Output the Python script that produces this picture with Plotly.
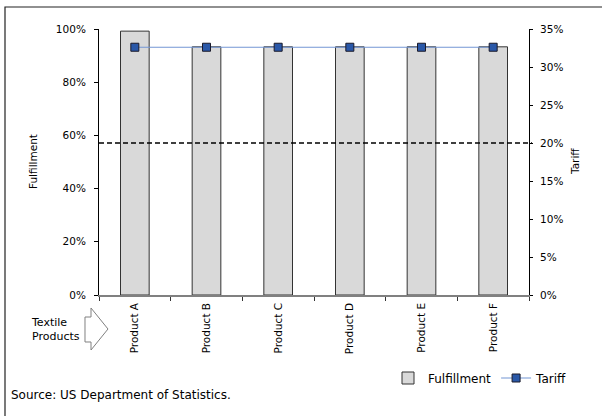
import plotly.graph_objects as go

# Data
products = ["Product A", "Product B", "Product C", "Product D", "Product E", "Product F"]
fulfillment = [99.2, 93.3, 93.3, 93.3, 93.3, 93.3]      # % (left axis)
tariff = [32.6, 32.6, 32.6, 32.6, 32.6, 32.6]            # % (right axis)
tariff_reference = 20                                    # % (dashed line, right axis)
left_ticks = [0, 20, 40, 60, 80, 100]
right_ticks = [0, 5, 10, 15, 20, 25, 30, 35]

W, H = 602, 416
L, R, T, B = 99, 73, 29, 121
PW, PH = W - L - R, H - T - B


def px_x(px):
    return (px - L) / PW


def px_y(py):
    return (H - B - py) / PH


FONT = "DejaVu Sans"

fig = go.Figure()

fig.add_trace(go.Bar(
    x=products, y=fulfillment, name="Fulfillment",
    width=0.4,
    marker=dict(color="#d9d9d9", line=dict(color="#333333", width=1)),
    yaxis="y",
))

fig.add_trace(go.Scatter(
    x=products, y=tariff, name="Tariff", mode="lines+markers",
    line=dict(color="#7396d4", width=1.2),
    marker=dict(symbol="square", size=8, color="#2a58a8",
                line=dict(color="#1a1a2a", width=1)),
    yaxis="y2",
))

# 20% tariff reference line
fig.add_shape(type="line", xref="paper", yref="y2",
              x0=0, x1=px_x(532), y0=tariff_reference, y1=tariff_reference,
              line=dict(color="black", width=1.6, dash="5px,3px"))

# Outer frame
fig.add_shape(type="rect", xref="paper", yref="paper",
              x0=px_x(5), x1=px_x(620), y0=px_y(7), y1=px_y(430),
              line=dict(color="#222222", width=1.2), fillcolor="rgba(0,0,0,0)",
              layer="below")

# Hollow arrow next to the category caption
arrow_pts = [(85, 317), (91, 317), (91, 308), (108, 329), (91, 350), (91, 342), (85, 342)]
path = "M " + " L ".join(f"{px_x(a):.5f},{px_y(b):.5f}" for a, b in arrow_pts) + " Z"
fig.add_shape(type="path", xref="paper", yref="paper", path=path,
              line=dict(color="#808080", width=1), fillcolor="white")

annotations = [
    dict(text="Textile<br>Products", x=px_x(29), y=px_y(329), xref="paper", yref="paper",
         xanchor="left", yanchor="middle", align="left", showarrow=False,
         font=dict(family=FONT, size=11, color="black")),
    dict(text="Source: US Department of Statistics.", x=px_x(9), y=px_y(395),
         xref="paper", yref="paper", xanchor="left", yanchor="middle", showarrow=False,
         font=dict(family=FONT, size=12, color="black")),
    dict(text="Fulfillment", x=px_x(33), y=0.5, xref="paper", yref="paper",
         textangle=-90, xanchor="center", yanchor="middle", showarrow=False,
         font=dict(family=FONT, size=10.5, color="black")),
    dict(text="Tariff", x=px_x(575), y=0.5, xref="paper", yref="paper",
         textangle=-90, xanchor="center", yanchor="middle", showarrow=False,
         font=dict(family=FONT, size=10.5, color="black")),
]

fig.update_layout(
    width=W, height=H,
    margin=dict(l=L, r=R, t=T, b=B),
    paper_bgcolor="white", plot_bgcolor="white",
    font=dict(family=FONT, size=10.5, color="black"),
    showlegend=True,
    legend=dict(orientation="h", x=px_x(388), y=px_y(378), xanchor="left",
                yanchor="middle", font=dict(family=FONT, size=12, color="black"),
                bgcolor="rgba(0,0,0,0)", itemwidth=30),
    annotations=annotations,
    xaxis=dict(
        type="category", tickson="boundaries", ticks="outside", ticklen=4,
        tickcolor="#333333", tickangle=-90, showline=True, linecolor="#808080",
        linewidth=1.5, showgrid=False, zeroline=False,
        tickfont=dict(family=FONT, size=10.5, color="black"),
        ticklabelstandoff=2,
    ),
    yaxis=dict(
        range=[0, 100], tickmode="array", tickvals=left_ticks,
        ticktext=[f"{v}%" for v in left_ticks],
        ticks="outside", ticklen=4, tickcolor="black", showline=True,
        linecolor="black", linewidth=1, showgrid=False, zeroline=False,
        tickfont=dict(family=FONT, size=10.5, color="black"),
        ticklabelstandoff=6,
    ),
    yaxis2=dict(
        range=[0, 35], tickmode="array", tickvals=right_ticks,
        ticktext=[f"{v}%" for v in right_ticks],
        overlaying="y", side="right", anchor="x",
        ticks="outside", ticklen=3, tickcolor="black", showline=True,
        linecolor="black", linewidth=1, showgrid=False, zeroline=False,
        tickfont=dict(family=FONT, size=10.5, color="black"),
        ticklabelstandoff=5,
    ),
)

fig.write_html("out.html")
